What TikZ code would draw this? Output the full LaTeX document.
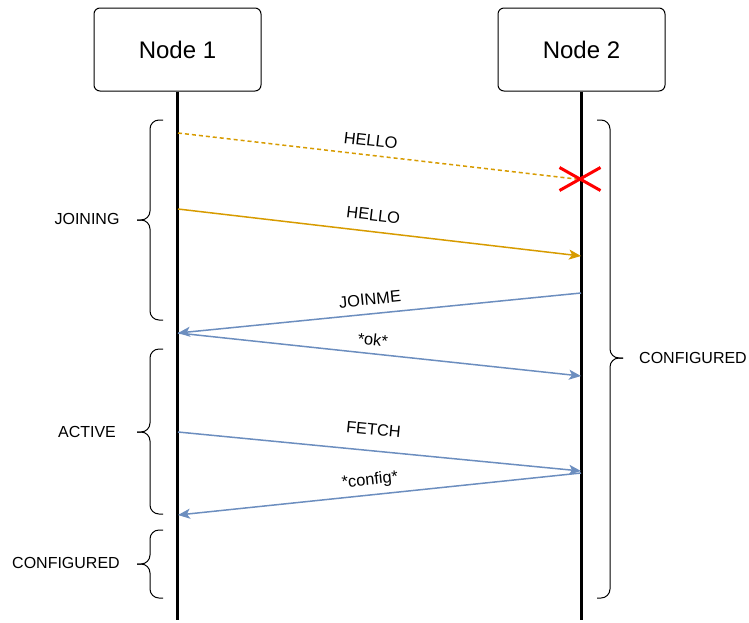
\documentclass[tikz,border=0pt]{standalone}
\usepackage{fontspec}
\setmainfont{Liberation Sans}
\usetikzlibrary{arrows.meta,shapes.misc}
\definecolor{msgorange}{HTML}{D79B00}
\definecolor{msgblue}{HTML}{6C8EBF}
\begin{document}
\begin{tikzpicture}[x=1pt,y=-1pt,
  actor/.style={draw=black,line width=1pt,rounded corners=6pt,minimum width=167pt,minimum height=83pt,font=\fontsize{24}{28}\selectfont,inner sep=0pt},
  lifeline/.style={line width=3pt,black},
  lbl/.style={font=\fontsize{16}{19}\selectfont,inner sep=0pt},
  msglbl/.style={font=\fontsize{16.4}{19}\selectfont,pos=0.48,sloped,inner sep=0pt},
  rmsglbl/.style={msglbl,pos=0.52},
  tip/.style={-{Stealth[length=12pt,width=10pt,inset=3pt]}},
  orangemsg/.style={draw=msgorange,line width=1.5pt},
  bluemsg/.style={draw=msgblue,line width=1.5pt,tip},
  bracepath/.style={draw=black,line width=1pt,rounded corners=9pt}
]
\useasboundingbox (0,0) rectangle (749,622);
% actors
\node[actor] (n1) at (177.5,49.5) {Node 1};
\node[actor] (n2) at (581.5,49.5) {Node 2};
\coordinate (e1) at (177,620);
\coordinate (e2) at (581,620);
\draw[lifeline] (n1.south -| e1) -- (e1);
\draw[lifeline] (n2.south -| e2) -- (e2);
% message endpoints
\coordinate (h1s) at (178,133);
\coordinate (h1e) at (576,179);
\coordinate (h2s) at (178,209);
\coordinate (h2e) at (581,256);
\coordinate (j1s) at (581,293);
\coordinate (j1e) at (178,333);
\coordinate (o1s) at (178,333);
\coordinate (o1e) at (581,376);
\coordinate (f1s) at (178,432);
\coordinate (f1e) at (581,471);
\coordinate (c1s) at (581,473);
\coordinate (c1e) at (178,515);
% messages
\draw[orangemsg,dash pattern=on 4pt off 3pt] (h1s) -- node[msglbl,above=8pt] {HELLO} (h1e);
\node[cross out,draw=red,line width=3pt,minimum width=38pt,minimum height=20pt,inner sep=0pt] (lost) at (580,179) {};
\draw[orangemsg,tip] (h2s) -- node[msglbl,above=10pt] {HELLO} (h2e);
\draw[bluemsg] (j1s) -- node[rmsglbl,above=8pt] {JOINME} (j1e);
\draw[bluemsg] (o1s) -- node[msglbl,above=7pt] {*ok*} (o1e);
\draw[bluemsg] (f1s) -- node[msglbl,above=15pt] {FETCH} (f1e);
\draw[bluemsg] (c1s) -- node[rmsglbl,above=6pt] {*config*} (c1e);
% left braces
\coordinate (bj) at (137,220);
\draw[bracepath] (163,120) -| (150,220) -- (bj);
\draw[bracepath] (163,320) -| (150,220) -- (bj);
\node[lbl] (joining) at (87,219) {JOINING};
\coordinate (ba) at (137,432);
\draw[bracepath] (163,349) -| (150,432) -- (ba);
\draw[bracepath] (163,514) -| (150,432) -- (ba);
\node[lbl] (active) at (87,432) {ACTIVE};
\coordinate (bc) at (137,564);
\draw[bracepath] (163,530) -| (150,564) -- (bc);
\draw[bracepath] (163,598) -| (150,564) -- (bc);
\node[lbl] (conf1) at (66,563) {CONFIGURED};
% right brace
\coordinate (br) at (623,358);
\draw[bracepath] (597,120) -| (610,358) -- (br);
\draw[bracepath] (597,598) -| (610,358) -- (br);
\node[lbl] (conf2) at (693,358) {CONFIGURED};
\end{tikzpicture}
\end{document}
